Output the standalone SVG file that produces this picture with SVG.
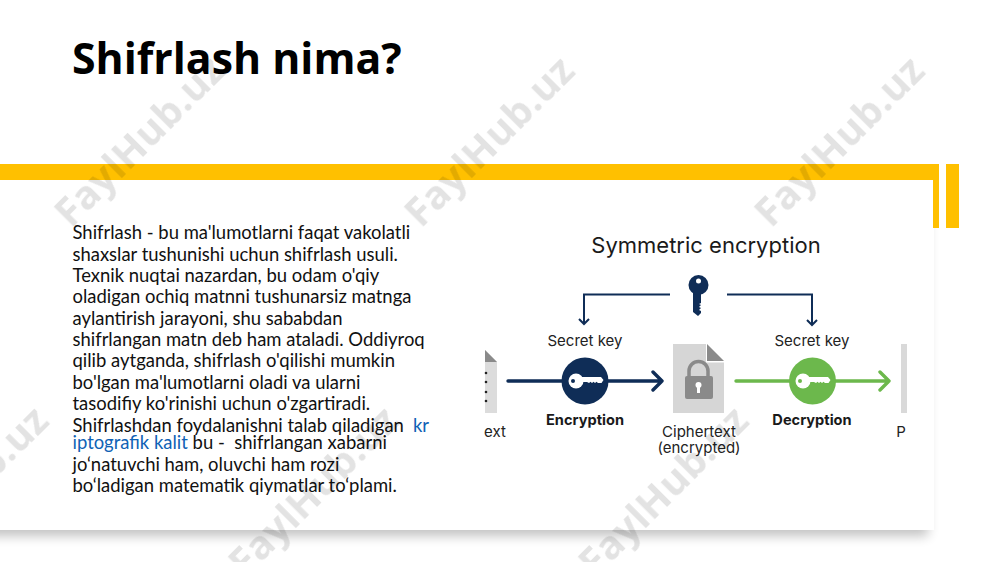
<svg xmlns="http://www.w3.org/2000/svg" width="1000" height="562" viewBox="0 0 1000 562">
<style>
.b{font-family:"Lato","Liberation Sans",sans-serif;font-size:18.45px;fill:#111}
.l{fill:#0f62b5}
.d{font-family:"Inter","Liberation Sans",sans-serif;font-size:15px;fill:#222;text-anchor:middle}
.s{font-weight:700;font-size:14.6px;fill:#1a1a1a}
.w{font-family:"Open Sans","Liberation Sans",sans-serif;font-weight:700;font-size:40px;fill:#000;opacity:.11}
.n{fill:none;stroke:#0f2d57;stroke-width:2}
.n3{fill:none;stroke:#0f2d57;stroke-width:3.4;stroke-linecap:round;stroke-linejoin:round}
.g3{fill:none;stroke:#6cb84c;stroke-width:3.4;stroke-linecap:round;stroke-linejoin:round}
</style>
<defs>
<filter id="sh" x="-5%" y="-5%" width="110%" height="112%"><feGaussianBlur stdDeviation="6"/></filter>
<g id="k"><circle cx="-9" cy="0" r="7.500" fill="#fff"/><path d="M-4-4H16l2.500 3-2 3H13l-1.500-1.300L10 2 8.500.7 7 2 5.500.7 4 2l-2-1H-4z" fill="#fff"/></g>
</defs>
<rect width="1000" height="562" fill="#fff"/>
<rect id="shadow" x="-20" y="190" width="948" height="346" fill="#000" opacity=".24" filter="url(#sh)"/>
<rect id="panel" x="-10" y="180" width="944" height="350" fill="#fff"/>
<path id="bar" d="M0 164H939V228H933V180H0z" fill="#ffc000"/>
<rect id="bar2" x="946" y="164" width="13" height="64" fill="#ffc000"/>
<text id="title" x="72" y="74" font-family="Open Sans,Liberation Sans,sans-serif" font-weight="700" font-size="42.800" fill="#000">Shifrlash nima?</text>
<g id="body" class="b">
<text x="72.500" y="239">Shifrlash - bu ma'lumotlarni faqat vakolatli</text>
<text x="72.500" y="261">shaxslar tushunishi uchun shifrlash usuli.</text>
<text x="72.500" y="282">Texnik nuqtai nazardan, bu odam o'qiy</text>
<text x="72.500" y="303">oladigan ochiq matnni tushunarsiz matnga</text>
<text x="72.500" y="325">aylantirish jarayoni, shu sababdan</text>
<text x="72.500" y="346">shifrlangan matn deb ham ataladi. Oddiyroq</text>
<text x="72.500" y="367">qilib aytganda, shifrlash o'qilishi mumkin</text>
<text x="72.500" y="389">bo'lgan ma'lumotlarni oladi va ularni</text>
<text x="72.500" y="410">tasodifiy ko'rinishi uchun o'zgartiradi.</text>
<text x="72.500" y="432">Shifrlashdan foydalanishni talab qiladigan</text>
<text x="413" y="432" class="b l">kr</text>
<text x="72.500" y="449" xml:space="preserve"><tspan class="l">iptografik kalit</tspan> bu -  shifrlangan xabarni</text>
<text x="72.500" y="471">jo‘natuvchi ham, oluvchi ham rozi</text>
<text x="72.500" y="492">bo‘ladigan matematik qiymatlar to‘plami.</text>
</g>
<g id="connectors">
<path class="n" d="M670 294.500H584V324"/>
<path class="n" d="M579 319l5 5 5-5"/>
<path class="n" d="M727 294.500H812V324"/>
<path class="n" d="M807 320l5 5 5-5"/>
<path class="n3" d="M508 381H662M653 372l9 9-9 9"/>
<path class="g3" d="M736 381H889M880 372l9 9-9 9"/>
</g>
<g id="image-title"><text x="706" y="253" font-family="Inter,Liberation Sans,sans-serif" font-size="22" fill="#1a1a1a" text-anchor="middle">Symmetric encryption</text></g>
<g id="top-key" fill="#0f2d57"><path d="M693 287V312l5 4 3-3v-2l-2-1 2-2-2-1 2-2-2-1 2-1V287z"/><circle cx="698.500" cy="285" r="10"/><circle cx="698.500" cy="281" r="2.500" fill="#fff"/></g>
<g id="plaintext-doc"><path d="M485 350l12 12V413H485z" fill="#dcdcdc"/><path d="M485 350l12 12H485z" fill="#8a8a8a"/><g fill="#222"><circle cx="486" cy="373" r="1.300"/><circle cx="486" cy="382" r="1.300"/><circle cx="486" cy="392" r="1.300"/><circle cx="486" cy="401" r="1.300"/></g><text class="d" x="495" y="437">ext</text></g>
<g id="encryption"><text class="d" x="585" y="346">Secret key</text><circle cx="585" cy="381" r="23.500" fill="#0f2d57"/><use href="#k" x="585" y="381"/><circle cx="573" cy="381" r="2" fill="#0f2d57"/><text class="d s" x="585" y="425">Encryption</text></g>
<g id="ciphertext"><path d="M673 344H706V362.500H724V413H673z" fill="#d6d6d6"/><path d="M707 344l17 17H707z" fill="#8a8a8a"/><path d="M689 377v-6a9.500 9.500 0 0 1 19 0v6" fill="none" stroke="#8a8a8a" stroke-width="3.500"/><rect x="685" y="376" width="28" height="23" rx="2" fill="#8a8a8a"/><circle cx="698.500" cy="385" r="3" fill="#fff"/><rect x="697" y="386" width="3" height="7" fill="#fff"/><text class="d" x="699" y="437">Ciphertext</text><text class="d" x="699" y="453">(encrypted)</text></g>
<g id="decryption"><text class="d" x="812" y="346">Secret key</text><circle cx="812.500" cy="381" r="23.500" fill="#6cb84c"/><use href="#k" x="812" y="381"/><circle cx="800" cy="381" r="2" fill="#6cb84c"/><text class="d s" x="812" y="425">Decryption</text></g>
<g id="plaintext-end"><rect x="901" y="344" width="6" height="69" fill="#d9d9d9"/><text class="d" x="901" y="437">P</text></g>
<g id="watermarks" class="w">
<text transform="translate(71 229) rotate(-45)">FaylHub.uz</text>
<text transform="translate(421 229) rotate(-45)">FaylHub.uz</text>
<text transform="translate(771 229) rotate(-45)">FaylHub.uz</text>
<text transform="translate(-105 579) rotate(-45)">FaylHub.uz</text>
<text transform="translate(245 579) rotate(-45)">FaylHub.uz</text>
<text transform="translate(595 579) rotate(-45)">FaylHub.uz</text>
</g>
</svg>
